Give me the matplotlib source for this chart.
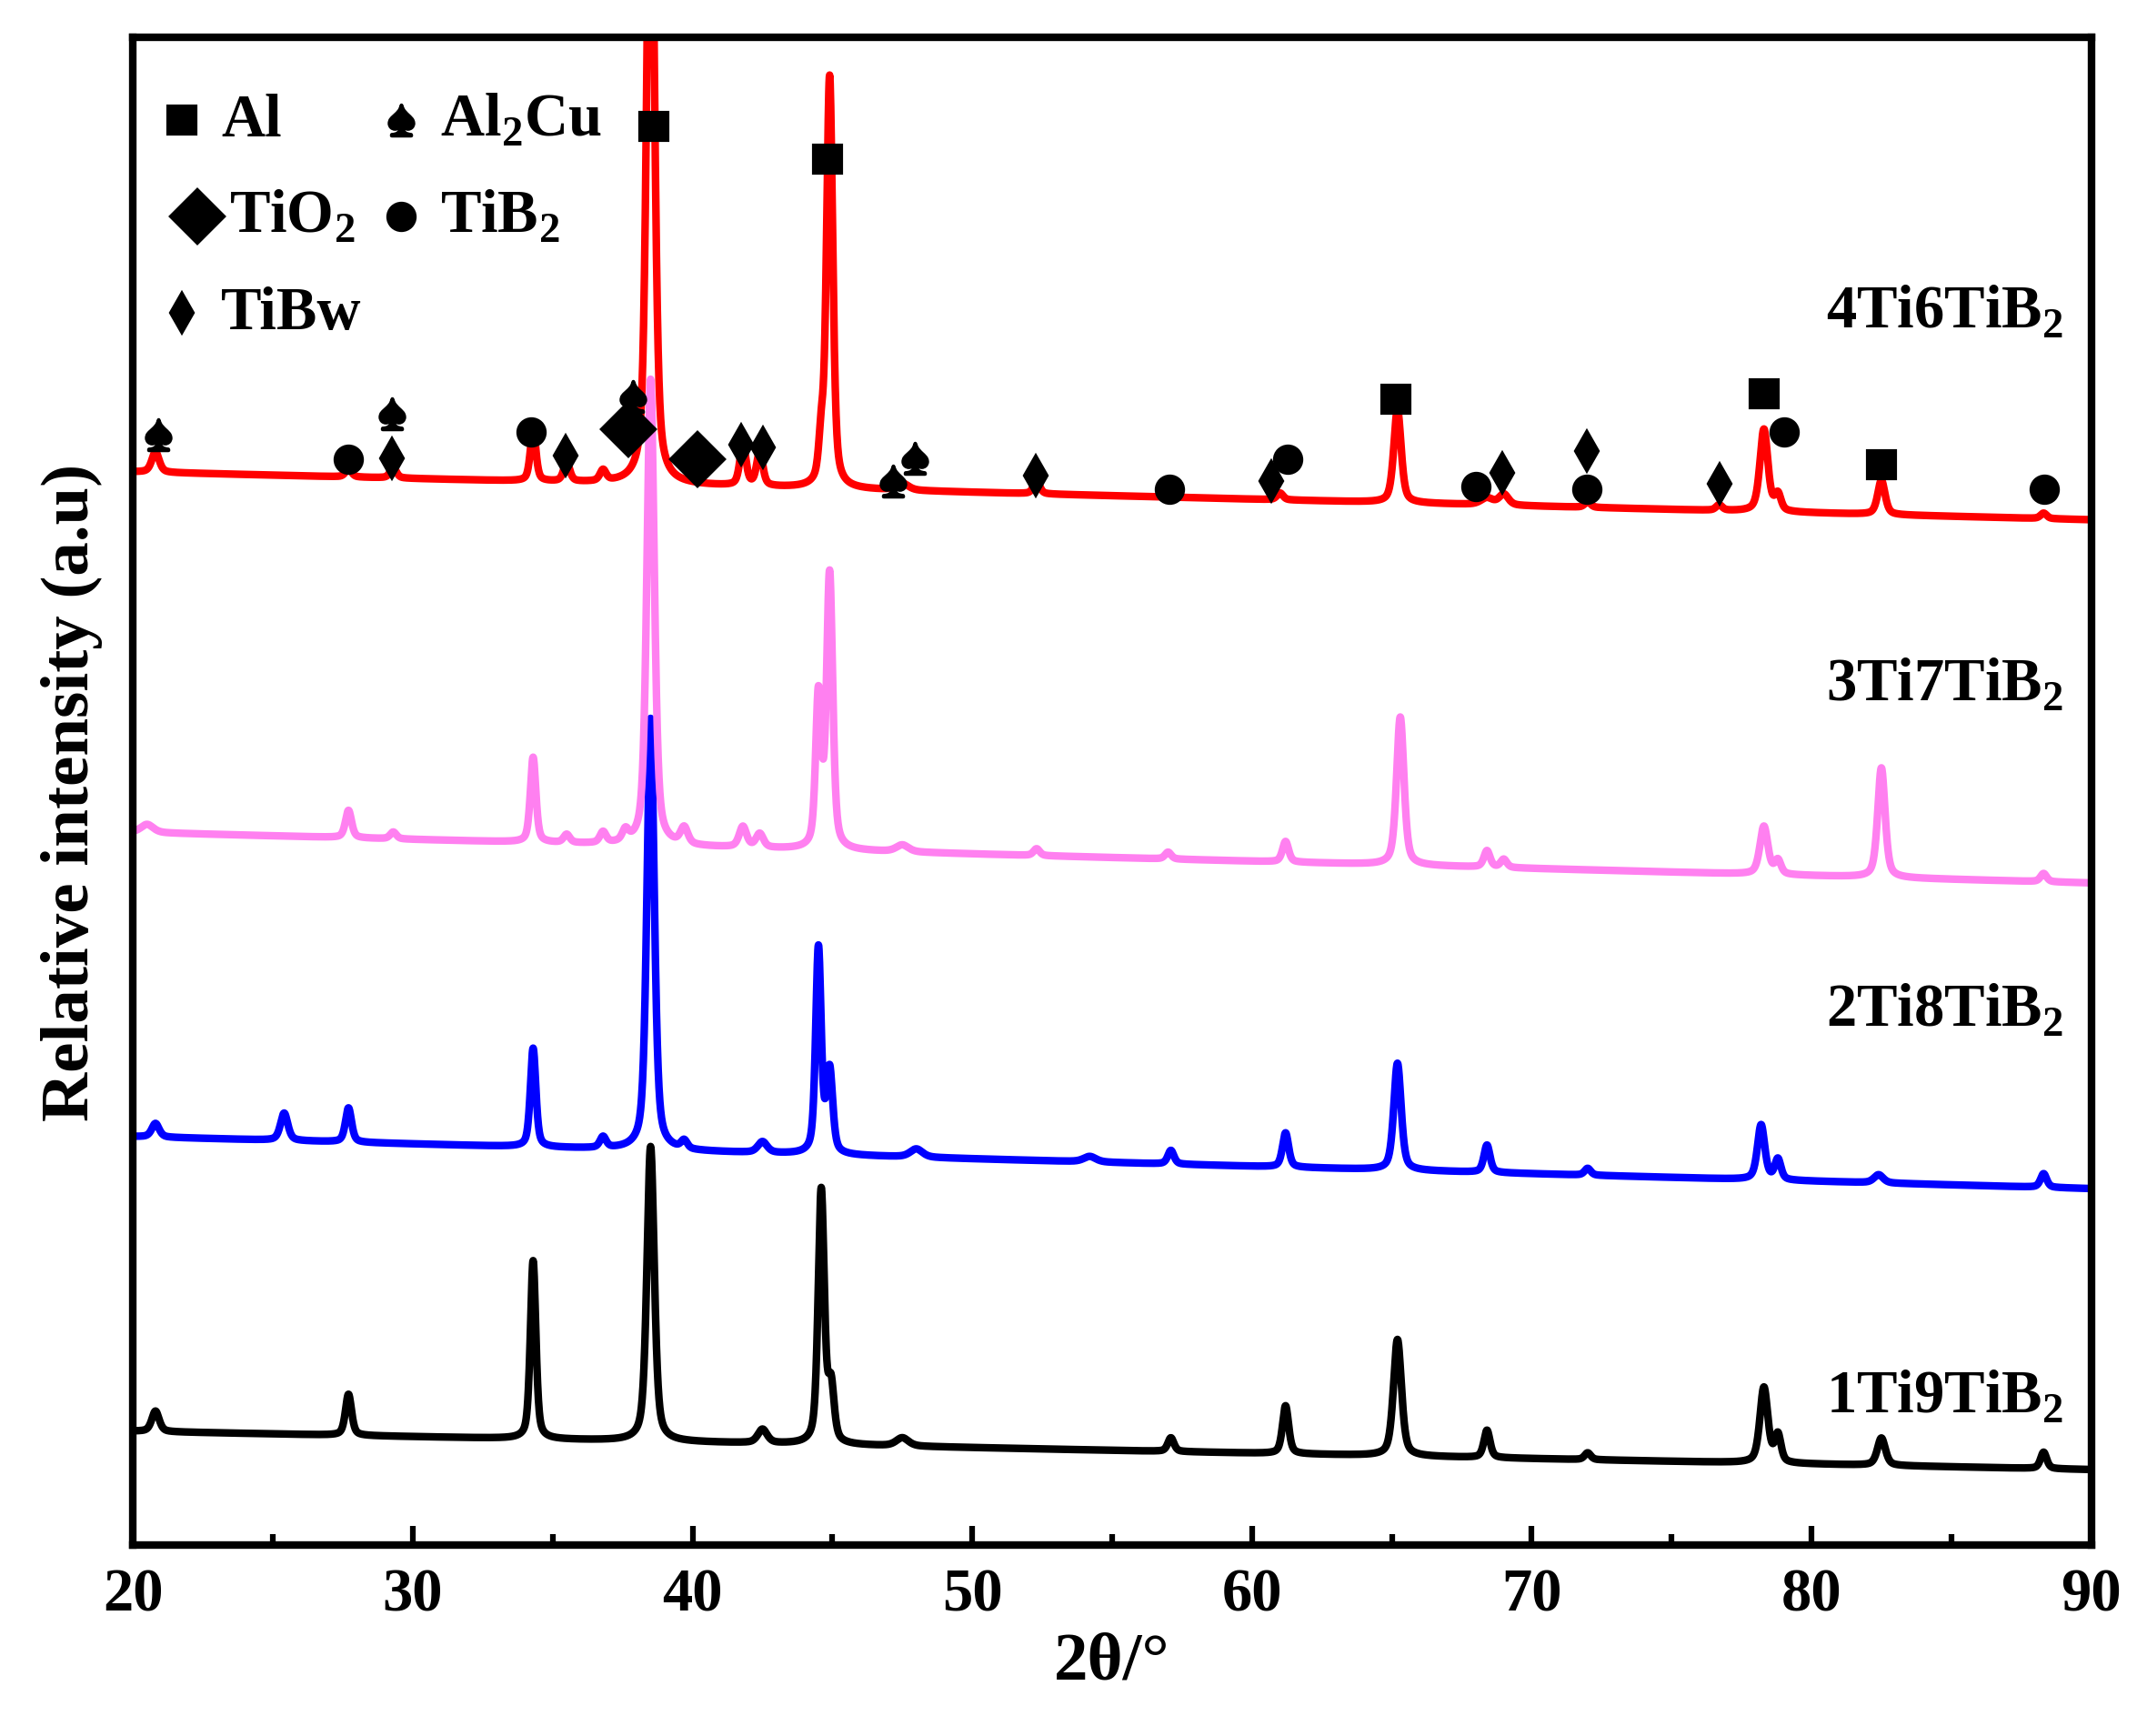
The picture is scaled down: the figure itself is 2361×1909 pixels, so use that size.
import numpy as np
import matplotlib
matplotlib.use("Agg")
import matplotlib.pyplot as plt

plt.rcParams['font.family'] = ['Liberation Serif', 'DejaVu Sans']
plt.rcParams['mathtext.fontset'] = 'custom'
plt.rcParams['mathtext.rm'] = 'Liberation Serif:bold'
plt.rcParams['mathtext.bf'] = 'Liberation Serif:bold'

# baselines (start, end) and peaks (2theta, height, width) per sample
labels = ['1Ti9TiB$_2$', '2Ti8TiB$_2$', '3Ti7TiB$_2$', '4Ti6TiB$_2$']
colors = ['black', 'blue', '#ff80f0', 'red']
base_start = [83, 298, 520, 783]
base_end = [55, 260, 483, 748]
peaks_1 = [(20.8, 15, .12), (27.7, 30, .1), (34.3, 130, .09), (38.5, 215, .12), (42.5, 10, .15),
           (44.6, 185, .1), (44.95, 40, .1), (47.5, 6, .2), (57.1, 10, .1), (61.2, 35, .1),
           (65.2, 85, .13), (68.4, 20, .1), (72.0, 5, .1), (78.3, 55, .13), (78.8, 20, .1),
           (82.5, 20, .13), (88.3, 12, .1)]
peaks_2 = [(20.8, 10, .12), (25.4, 20, .12), (27.7, 25, .1), (34.3, 72, .09), (36.8, 8, .1),
           (38.5, 315, .12), (39.7, 6, .1), (42.5, 8, .15), (44.5, 150, .09), (44.9, 60, .1),
           (48.0, 6, .2), (54.2, 4, .2), (57.1, 10, .1), (61.2, 25, .1), (65.2, 78, .12),
           (68.4, 20, .1), (72.0, 5, .1), (78.2, 40, .12), (78.8, 15, .1), (82.4, 6, .15), (88.3, 10, .1)]
peaks_3 = [(20.5, 6, .2), (27.7, 20, .1), (29.3, 5, .1), (34.3, 62, .09), (35.5, 6, .1),
           (36.8, 8, .1), (37.6, 8, .1), (38.5, 340, .12), (39.7, 12, .12), (41.8, 15, .12),
           (42.4, 10, .12), (44.5, 110, .09), (44.9, 200, .1), (47.5, 5, .2), (52.3, 5, .1),
           (57.0, 5, .1), (61.2, 15, .1), (65.3, 108, .12), (68.4, 12, .1), (69.0, 6, .1),
           (78.3, 35, .13), (78.8, 10, .1), (82.5, 80, .12), (88.3, 6, .1)]
peaks_4 = [(20.8, 15, .12), (27.7, 6, .1), (29.3, 8, .1), (34.3, 38, .09), (35.5, 14, .1),
           (36.8, 8, .1), (38.5, 520, .12), (41.8, 30, .1), (42.4, 25, .1), (44.6, 30, .08),
           (44.9, 300, .1), (47.5, 5, .2), (52.3, 10, .1), (61.0, 5, .1), (65.2, 68, .12),
           (68.4, 5, .2), (69.0, 8, .15), (72.0, 4, .1), (76.7, 4, .1), (78.3, 60, .13),
           (78.8, 12, .1), (82.5, 25, .12), (88.3, 4, .1)]
peak_sets = [peaks_1, peaks_2, peaks_3, peaks_4]

# phase markers on top pattern: (2theta, y, kind)
marks = [(20.9, 810, 'sp'), (27.7, 792, 'o'), (29.25, 825, 'sp'), (29.25, 793, 'dm'),
         (34.24, 812, 'o'), (35.47, 795, 'dm'), (37.87, 838, 'sp'), (37.72, 814, 'D'),
         (38.6, 1035, 's'), (40.17, 792, 'D'), (41.73, 803, 'dm'), (42.52, 801, 'dm'),
         (44.82, 1011, 's'), (47.17, 776, 'sp'), (47.95, 793, 'sp'), (52.26, 780, 'dm'),
         (57.06, 770, 'o'), (60.68, 776, 'dm'), (61.27, 792, 'o'), (65.13, 836, 's'),
         (68.02, 772, 'o'), (68.95, 782, 'dm'), (71.98, 798, 'dm'), (71.98, 770, 'o'),
         (76.73, 774, 'dm'), (78.3, 840, 's'), (79.03, 812, 'o'), (82.51, 788, 's'), (88.33, 770, 'o')]

fig = plt.figure(figsize=(2361/300, 1910/300), dpi=300)
ax = fig.add_axes([0.062, 0.110, 0.912, 0.868])
x = np.linspace(20, 90, 7001)
for lab, c, b0, b1, pk in zip(labels, colors, base_start, base_end, peak_sets):
    y = b0 + (b1 - b0) * (x - 20) / 70
    for p, h, w in pk:
        w2 = w * 1.3
        y = y + h * (0.5 / (1 + ((x - p) / w2) ** 2) + 0.5 * np.exp(-((x - p) / w2) ** 2 * 0.69))
    ax.plot(x, y, color=c, lw=2.0)

label_y = [108, 390, 628, 900]
for lab, ly in zip(labels, label_y):
    ax.text(89, ly, lab, ha='right', va='center', fontsize=16, fontweight='bold')

style = {'s': dict(marker='s', ms=7), 'o': dict(marker='o', ms=7),
         'D': dict(marker='D', ms=10), 'dm': dict(marker='d', ms=7),
         'sp': dict(marker=r'$\spadesuit$', ms=8)}
for px, py, k in marks:
    ax.plot(px, py, color='black', ls='none', **style[k])

# legend
leg = [(0.025, 0.945, 's', 'Al'), (0.137, 0.945, 'sp', 'Al$_2$Cu'),
       (0.033, 0.881, 'D', 'TiO$_2$'), (0.137, 0.881, 'o', 'TiB$_2$'),
       (0.025, 0.817, 'dm', 'TiBw')]
for lx, ly, k, t in leg:
    ax.plot(lx, ly, color='black', transform=ax.transAxes, ls='none', clip_on=False, **style[k])
    ax.text(lx + (0.02 if k != 'D' else 0.016), ly, t, transform=ax.transAxes, va='center',
            fontsize=16, fontweight='bold')

ax.set_xlim(20, 90)
ax.set_ylim(0, 1100)
ax.set_xticks(range(20, 91, 10))
ax.set_xticks(range(25, 90, 10), minor=True)
ax.set_yticks([])
ax.tick_params(axis='x', which='major', direction='in', length=5, width=1.5, labelsize=16, pad=6)
ax.tick_params(axis='x', which='minor', direction='in', length=3, width=1.5)
for lbl in ax.get_xticklabels():
    lbl.set_fontweight('bold')
for s in ax.spines.values():
    s.set_linewidth(2)
ax.set_xlabel('2θ/°', fontsize=18, fontweight='bold', labelpad=2)
ax.set_ylabel('Relative intensity (a.u)', fontsize=18, fontweight='bold', labelpad=8)
fig.savefig('out.png', dpi=300)
